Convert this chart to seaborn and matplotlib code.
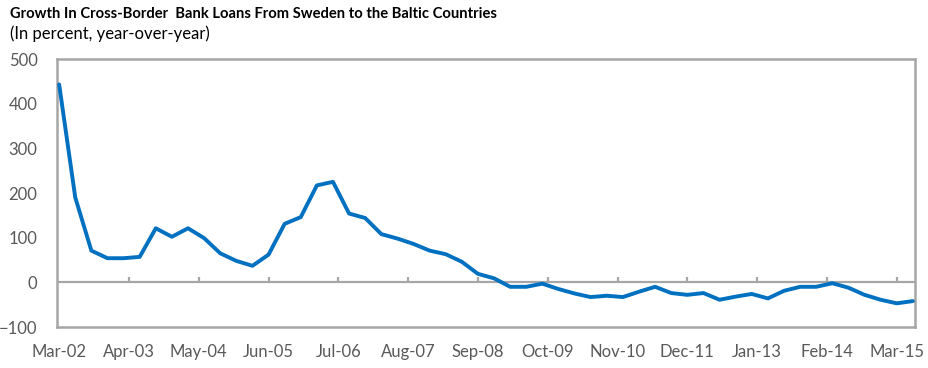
import matplotlib
matplotlib.use("Agg")
import matplotlib.pyplot as plt
import numpy as np
import pandas as pd
import seaborn as sns

# Quarterly year-over-year growth, Mar-02 through Jun-15 (percent)
growth = [443, 190, 71, 54, 54, 57, 121, 102, 121, 99, 65, 48, 37, 62,
          131, 146, 217, 225, 154, 144, 108, 98, 86, 71, 63, 46, 19, 9,
          -10, -10, -3, -15, -25, -33, -30, -33, -21, -10, -24, -28, -24,
          -39, -32, -26, -36, -19, -10, -10, -2, -12, -28, -39, -47, -42]
# months elapsed since Mar-02 for each quarterly observation
months = list(range(0, 3 * len(growth), 3))

tick_labels = ["Mar-02", "Apr-03", "May-04", "Jun-05", "Jul-06", "Aug-07",
               "Sep-08", "Oct-09", "Nov-10", "Dec-11", "Jan-13", "Feb-14",
               "Mar-15"]
tick_months = [13 * i for i in range(len(tick_labels))]
y_ticks = [-100, 0, 100, 200, 300, 400, 500]

title = "Growth In Cross-Border  Bank Loans From Sweden to the Baltic Countries"
subtitle = "(In percent, year-over-year)"

sns.set_theme(style="white")
plt.rcParams["font.family"] = ["Lato", "DejaVu Sans"]

df = pd.DataFrame({"month": months, "growth": growth})

fig = plt.figure(figsize=(9.29, 3.68), dpi=100)
ax = fig.add_axes([57 / 929, 1 - 327 / 368, (915 - 57) / 929, (327 - 59) / 368])

grey = "#A6A6A6"
text_grey = "#595959"

ax.axhline(0, color=grey, lw=1.6, zorder=1)
# small upward tick marks sitting on the zero line
ax.vlines(tick_months[1:], 0, 13, color=grey, lw=1.6, zorder=1)

sns.lineplot(data=df, x="month", y="growth", ax=ax, color="#0070C0",
             lw=2.8, zorder=3)

ax.set_xlim(-0.4, 159.4)
ax.set_ylim(-100, 500)
ax.set_xticks(tick_months)
ax.set_xticklabels(tick_labels)
ax.set_yticks(y_ticks)
ax.set_xlabel("")
ax.set_ylabel("")
ax.tick_params(axis="both", length=0, labelsize=12, labelcolor=text_grey)
ax.tick_params(axis="x", pad=12)
ax.tick_params(axis="y", pad=14)

for s in ax.spines.values():
    s.set_visible(True)
    s.set_color(grey)
    s.set_linewidth(1.8)

fig.text(10 / 929, 1 - 14 / 368, title, fontsize=10.6, fontweight="bold",
         color="#000000", va="center", ha="left")
fig.text(10 / 929, 1 - 34 / 368, subtitle, fontsize=12, color="#000000",
         va="center", ha="left")

fig.savefig("out.png", dpi=100, facecolor="white")
